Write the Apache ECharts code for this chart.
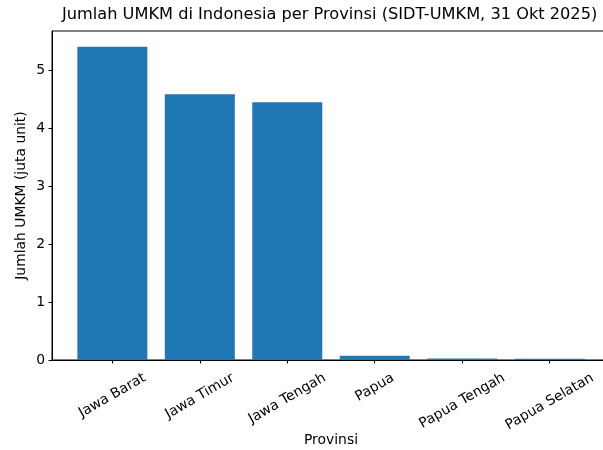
<!DOCTYPE html>
<html>
<head>
<meta charset="utf-8">
<script src="https://cdn.jsdelivr.net/npm/echarts@6/dist/echarts.min.js"></script>
<style>
html,body{margin:0;padding:0;background:#fff;}
#chart{width:603px;height:450px;}
</style>
</head>
<body>
<div id="chart"></div>
<script>
const categories = ['Jawa Barat', 'Jawa Timur', 'Jawa Tengah', 'Papua', 'Papua Tengah', 'Papua Selatan'];
const values = [5.41, 4.59, 4.45, 0.075, 0.025, 0.02];
const yTicks = [0, 1, 2, 3, 4, 5];
const titleText = 'Jumlah UMKM di Indonesia per Provinsi (SIDT-UMKM, 31 Okt 2025)';
const xName = 'Provinsi';
const yName = 'Jumlah UMKM (juta unit)';

const FONT = 'DejaVu Sans';
const FS = 13.9;
const xPositions = categories.map((c, i) => i);

// per-label shift so rotated labels are centred under ticks (matplotlib style)
const ctx = document.createElement('canvas').getContext('2d');
ctx.font = FS + 'px "' + FONT + '"';
const rich = {};
categories.forEach((c, i) => {
  const w = ctx.measureText(c).width;
  const D = (0.5 * w + 0.866 * 16) / 2;
  rich['l' + i] = {
    fontFamily: FONT, fontSize: FS, color: '#000',
    padding: [1.732 * D, D, 0, 0]
  };
});

const chart = echarts.init(document.getElementById('chart'), null, {renderer: 'canvas'});
chart.setOption({
  animation: false,
  backgroundColor: '#fff',
  textStyle: {fontFamily: FONT},
  title: {
    text: titleText,
    left: 62, top: 7, padding: 0,
    textStyle: {fontFamily: FONT, fontSize: 16.2, fontWeight: 'normal', color: '#000'}
  },
  grid: {
    left: 52, top: 31, width: 558, bottom: 90,
    outerBoundsMode: 'none',
    containLabel: false,
    show: true, borderColor: '#000', borderWidth: 1, backgroundColor: 'transparent'
  },
  xAxis: {
    type: 'value',
    min: -0.69, max: 5.69,
    name: xName,
    nameLocation: 'middle',
    nameGap: 73,
    nameMoveOverlap: false,
    nameTextStyle: {fontFamily: FONT, fontSize: FS, color: '#000'},
    axisLine: {show: true, onZero: false, lineStyle: {color: '#000', width: 1}},
    axisTick: {show: true, length: 3.5, lineStyle: {color: '#000'}, customValues: xPositions},
    splitLine: {show: false},
    axisLabel: {
      customValues: xPositions,
      rotate: 30,
      align: 'center',
      verticalAlign: 'middle',
      margin: 10,
      formatter: (v) => {
        const i = Math.round(v);
        return '{l' + i + '|' + categories[i] + '}';
      },
      rich: rich,
      fontFamily: FONT, fontSize: FS, color: '#000'
    }
  },
  yAxis: {
    type: 'value',
    min: 0, max: 5.68,
    name: yName,
    nameLocation: 'middle',
    nameRotate: 90,
    nameGap: 24,
    nameMoveOverlap: false,
    nameTextStyle: {fontFamily: FONT, fontSize: FS, color: '#000'},
    axisLine: {show: true, onZero: false, lineStyle: {color: '#000', width: 1}},
    axisTick: {show: true, length: 3.5, lineStyle: {color: '#000'}, customValues: yTicks},
    splitLine: {show: false},
    axisLabel: {customValues: yTicks, margin: 7, fontFamily: FONT, fontSize: FS, color: '#000'}
  },
  series: [{
    type: 'bar',
    barWidth: 70,
    itemStyle: {color: '#1f77b4'},
    data: values.map((v, i) => [xPositions[i], v])
  }]
});
</script>
</body>
</html>
